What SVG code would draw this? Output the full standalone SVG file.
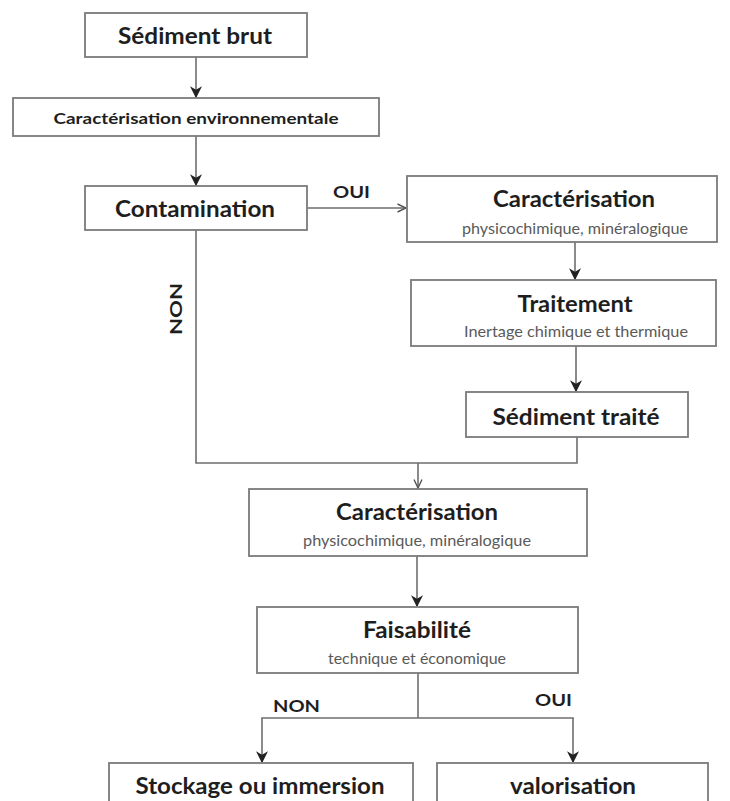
<svg xmlns="http://www.w3.org/2000/svg" width="730" height="801" viewBox="0 0 730 801">
<defs>
<style>
.box{fill:#fff;stroke:#7a7a7a;stroke-width:1.8}
.t{font-family:Lato,"Open Sans","Liberation Sans",sans-serif;font-weight:bold;fill:#1e1e1e;text-anchor:middle}
.s{font-family:Lato,"Open Sans","Liberation Sans",sans-serif;fill:#5a5a5a;text-anchor:middle;font-size:15px}
.lbl{font-family:Lato,"Open Sans","Liberation Sans",sans-serif;font-weight:bold;fill:#1e1e1e;font-size:17px}
.c{fill:none;stroke:#6e6e6e;stroke-width:1.6}
</style>
<marker id="ah" viewBox="0 0 10 10" refX="9" refY="5" markerWidth="12" markerHeight="12" markerUnits="userSpaceOnUse" orient="auto">
<path d="M0,0 L10,5 L0,10 L3,5 z" fill="#222"/>
</marker>
<marker id="ao" viewBox="0 0 10 10" refX="9.5" refY="5" markerWidth="10" markerHeight="10" markerUnits="userSpaceOnUse" orient="auto">
<path d="M1,1 L9.5,5 L1,9" fill="none" stroke="#555" stroke-width="1.4"/>
</marker>
</defs>
<rect width="730" height="801" fill="#fff"/>

<g id="connectors">
<line class="c" x1="196" y1="57" x2="196" y2="97" marker-end="url(#ah)"/>
<line class="c" x1="196" y1="136" x2="196" y2="185" marker-end="url(#ah)"/>
<line class="c" x1="307" y1="208" x2="406" y2="208" marker-end="url(#ao)"/>
<line class="c" x1="575" y1="242" x2="575" y2="279" marker-end="url(#ah)"/>
<line class="c" x1="576" y1="346" x2="576" y2="391" marker-end="url(#ah)"/>
<polyline class="c" points="577,437 577,463 196,463 196,230"/>
<line class="c" x1="418" y1="463" x2="418" y2="488" marker-end="url(#ao)"/>
<line class="c" x1="417" y1="556" x2="417" y2="606" marker-end="url(#ah)"/>
<line class="c" x1="418" y1="673" x2="418" y2="718"/>
<line class="c" x1="261.2" y1="718" x2="573.8" y2="718"/>
<line class="c" x1="262" y1="718" x2="262" y2="762" marker-end="url(#ah)"/>
<line class="c" x1="573" y1="718" x2="573" y2="762" marker-end="url(#ah)"/>
<text class="lbl" x="333" y="198" textLength="37" lengthAdjust="spacingAndGlyphs">OUI</text>
<text class="lbl" transform="translate(182,335) rotate(-90)" x="0" y="0" textLength="52" lengthAdjust="spacingAndGlyphs">NON</text>
<text class="lbl" x="273" y="712" textLength="47" lengthAdjust="spacingAndGlyphs">NON</text>
<text class="lbl" x="535" y="706" textLength="37" lengthAdjust="spacingAndGlyphs">OUI</text>
</g>

<g id="n1">
<rect class="box" x="85" y="13" width="222" height="44"/>
<text class="t" x="195" y="44" font-size="22" textLength="154" lengthAdjust="spacingAndGlyphs">Sédiment brut</text>
</g>
<g id="n2">
<rect class="box" x="13" y="98" width="366" height="38"/>
<text class="t" x="196" y="124" font-size="16" textLength="285" lengthAdjust="spacingAndGlyphs">Caractérisation environnementale</text>
</g>
<g id="n3">
<rect class="box" x="85" y="186" width="222" height="44"/>
<text class="t" x="195" y="217" font-size="22" textLength="160" lengthAdjust="spacingAndGlyphs">Contamination</text>
</g>
<g id="n4">
<rect class="box" x="407" y="176" width="310" height="66"/>
<text class="t" x="574" y="207" font-size="22" textLength="162" lengthAdjust="spacingAndGlyphs">Caractérisation</text>
<text class="s" x="575" y="234" textLength="226" lengthAdjust="spacingAndGlyphs">physicochimique, minéralogique</text>
</g>
<g id="n5">
<rect class="box" x="411" y="280" width="305" height="66"/>
<text class="t" x="575" y="312" font-size="22" textLength="115" lengthAdjust="spacingAndGlyphs">Traitement</text>
<text class="s" x="576" y="337" textLength="224" lengthAdjust="spacingAndGlyphs">Inertage chimique et thermique</text>
</g>
<g id="n6">
<rect class="box" x="466" y="392" width="222" height="45"/>
<text class="t" x="576" y="425" font-size="22" textLength="167" lengthAdjust="spacingAndGlyphs">Sédiment traité</text>
</g>
<g id="n7">
<rect class="box" x="249" y="489" width="338" height="67"/>
<text class="t" x="417" y="520" font-size="22" textLength="162" lengthAdjust="spacingAndGlyphs">Caractérisation</text>
<text class="s" x="417" y="546" textLength="228" lengthAdjust="spacingAndGlyphs">physicochimique, minéralogique</text>
</g>
<g id="n8">
<rect class="box" x="257" y="607" width="321" height="66"/>
<text class="t" x="417" y="638" font-size="22" textLength="108" lengthAdjust="spacingAndGlyphs">Faisabilité</text>
<text class="s" x="417" y="664" textLength="178" lengthAdjust="spacingAndGlyphs">technique et économique</text>
</g>
<g id="n9">
<rect class="box" x="109" y="763" width="304" height="60"/>
<text class="t" x="260" y="794" font-size="22" textLength="249" lengthAdjust="spacingAndGlyphs">Stockage ou immersion</text>
</g>
<g id="n10">
<rect class="box" x="437" y="763" width="271" height="60"/>
<text class="t" x="573" y="794" font-size="22" textLength="126" lengthAdjust="spacingAndGlyphs">valorisation</text>
</g>
</svg>
